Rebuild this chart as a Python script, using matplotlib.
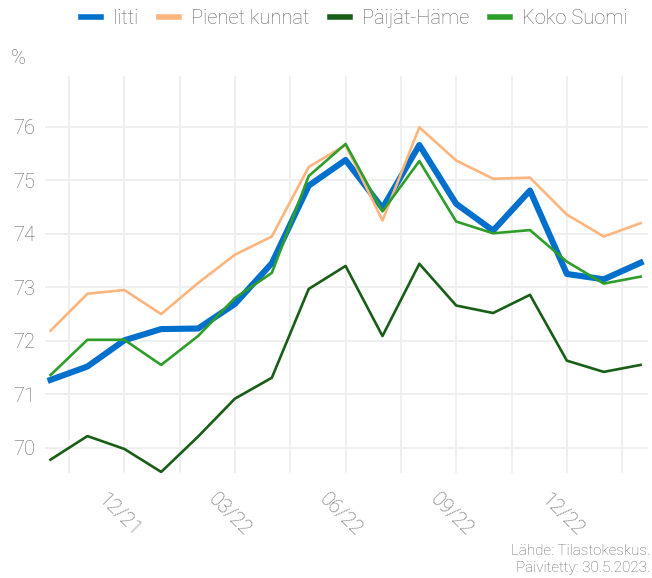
import matplotlib.pyplot as plt
import matplotlib.transforms as mtransforms
from matplotlib.ticker import FixedLocator

# monthly values, 10/21 .. 02/23
months = ['10/21', '11/21', '12/21', '01/22', '02/22', '03/22', '04/22', '05/22', '06/22',
          '07/22', '08/22', '09/22', '10/22', '11/22', '12/22', '01/23', '02/23']
iitti = [71.27, 71.52, 72.01, 72.22, 72.23, 72.69, 73.45, 74.90, 75.38,
         74.48, 75.66, 74.56, 74.06, 74.81, 73.25, 73.15, 73.46]
pienet_kunnat = [72.19, 72.88, 72.95, 72.50, 73.08, 73.61, 73.95, 75.25, 75.66,
                 74.25, 75.99, 75.37, 75.03, 75.05, 74.36, 73.95, 74.20]
paijat_hame = [69.78, 70.22, 69.98, 69.55, 70.21, 70.92, 71.31, 72.97, 73.40,
               72.09, 73.44, 72.66, 72.52, 72.86, 71.63, 71.42, 71.55]
koko_suomi = [71.36, 72.02, 72.02, 71.55, 72.09, 72.80, 73.27, 75.08, 75.68,
              74.42, 75.36, 74.23, 74.01, 74.07, 73.48, 73.07, 73.20]

tick_labels = ['12/21', '03/22', '06/22', '09/22', '12/22']

plt.rcParams['font.family'] = ['Roboto', 'DejaVu Sans']
plt.rcParams['font.weight'] = 'light'
grey = '#666666'

fig = plt.figure(figsize=(6.52, 5.78), dpi=100)
ax = fig.add_axes([45 / 652, 105 / 578, 603 / 652, 397 / 578])

x = list(range(len(months)))
ax.plot(x, iitti, color='#0070CC', lw=4.4, label='Iitti', zorder=3)
ax.plot(x, pienet_kunnat, color='#FDB57E', lw=1.9, label='Pienet kunnat', zorder=4)
ax.plot(x, paijat_hame, color='#195E16', lw=1.9, label='Päijät-Häme', zorder=4)
ax.plot(x, koko_suomi, color='#2E9E2A', lw=1.9, label='Koko Suomi', zorder=5)

ax.set_xlim(-0.15, 16.2)
ax.set_ylim(69.53, 76.95)

major = [months.index(m) for m in tick_labels]
ax.xaxis.set_major_locator(FixedLocator(major))
ax.xaxis.set_minor_locator(FixedLocator([m - 1.5 for m in major] + [major[-1] + 1.5]))
ax.set_xticklabels(tick_labels)
ax.set_yticks([70, 71, 72, 73, 74, 75, 76])

ax.grid(True, which='major', color='#EEEEEE', lw=1.3, zorder=0)
ax.grid(True, which='minor', axis='x', color='#EEEEEE', lw=1.3, zorder=0)
ax.set_axisbelow(True)
for s in ax.spines.values():
    s.set_visible(False)
ax.tick_params(which='both', length=0)
ax.tick_params(axis='y', labelsize=14.5, labelcolor=grey, pad=7)
ax.tick_params(axis='x', labelsize=14.5, labelcolor=grey, pad=12)
shift = mtransforms.ScaledTranslation(-5 / 100, 0, fig.dpi_scale_trans)
for lab in ax.get_xticklabels():
    lab.set_rotation(-45)
    lab.set_ha('center')
    lab.set_va('top')
    lab.set_transform(lab.get_transform() + shift)

fig.text(18 / 652, 1 - 58 / 578, '%', fontsize=14.5, color=grey, va='center', ha='center')

fig.legend(loc='center', bbox_to_anchor=(354 / 652, 1 - 19 / 578), ncol=4, frameon=False,
           fontsize=14.5, labelcolor=grey, handlelength=1.0, handletextpad=0.6,
           columnspacing=1.0)
leg = fig.legends[0]
for h in leg.get_lines():
    h.set_linewidth(4)

fig.text(650 / 652, 1 - 551 / 578, 'Lähde: Tilastokeskus.', fontsize=11, color=grey,
         ha='right', va='center')
fig.text(650 / 652, 1 - 568 / 578, 'Päivitetty: 30.5.2023.', fontsize=11, color=grey,
         ha='right', va='center')

fig.savefig('out.png', dpi=100)
